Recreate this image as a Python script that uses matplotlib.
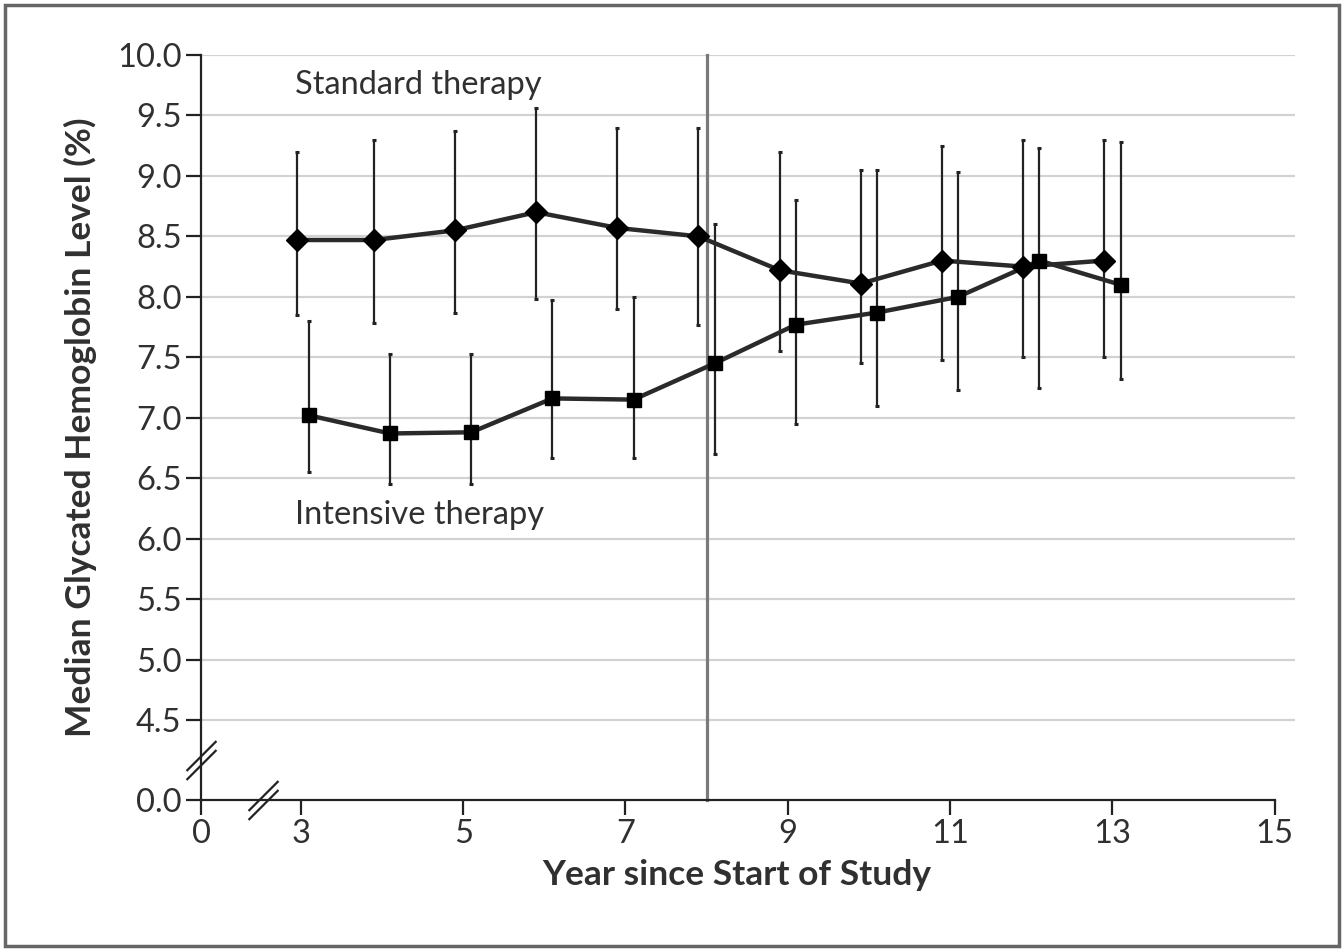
import numpy as np
import matplotlib
matplotlib.use("Agg")
import matplotlib.pyplot as plt
from matplotlib.path import Path
from matplotlib.patches import Rectangle

# ---- data ----
std_x = [2.9, 3.9, 4.9, 5.9, 6.9, 7.9, 8.9, 9.9, 10.9, 11.9, 12.9]
std_y = [8.47, 8.47, 8.55, 8.70, 8.57, 8.50, 8.22, 8.11, 8.30, 8.25, 8.30]
std_lo = [7.85, 7.78, 7.87, 7.98, 7.90, 7.77, 7.55, 7.45, 7.48, 7.50, 7.50]
std_hi = [9.20, 9.30, 9.37, 9.56, 9.40, 9.40, 9.20, 9.05, 9.25, 9.30, 9.30]

int_x = [3.1, 4.1, 5.1, 6.1, 7.1, 8.1, 9.1, 10.1, 11.1, 12.1, 13.1]
int_y = [7.02, 6.87, 6.88, 7.16, 7.15, 7.45, 7.77, 7.87, 8.00, 8.30, 8.10]
int_lo = [6.55, 6.45, 6.45, 6.67, 6.67, 6.70, 6.95, 7.10, 7.23, 7.25, 7.32]
int_hi = [7.80, 7.53, 7.53, 7.97, 8.00, 8.60, 8.80, 9.05, 9.03, 9.23, 9.28]

x_ticks = [0, 3, 5, 7, 9, 11, 13, 15]
y_ticks = [0.0, 4.5, 5.0, 5.5, 6.0, 6.5, 7.0, 7.5, 8.0, 8.5, 9.0, 9.5, 10.0]
grid_y = [4.5, 5.0, 5.5, 6.0, 6.5, 7.0, 7.5, 8.0, 8.5, 9.0, 9.5, 10.0]
divider_x = 8

# ---- broken-axis scales ----
XB, XZ = 3.0, 1.77
YB, YZ = 4.5, 3.839

def xf(x):
    x = np.asarray(x, dtype=float)
    return np.where(x >= XB, x, XZ + x * (XB - XZ) / XB)

def xi(u):
    u = np.asarray(u, dtype=float)
    return np.where(u >= XB, u, (u - XZ) * XB / (XB - XZ))

def yf(y):
    y = np.asarray(y, dtype=float)
    return np.where(y >= YB, y, YZ + y * (YB - YZ) / YB)

def yi(u):
    u = np.asarray(u, dtype=float)
    return np.where(u >= YB, u, (u - YZ) * YB / (YB - YZ))

FONT = "Lato"
plt.rcParams['font.family'] = [FONT, 'DejaVu Sans']

fig = plt.figure(figsize=(13.44, 9.51), dpi=100)
ax = fig.add_axes([201/1344, (951-800)/951, (1295-201)/1344, (800-55)/951])
ax.set_xscale('function', functions=(xf, xi))
ax.set_yscale('function', functions=(yf, yi))
ax.set_xlim(0, 15.25)
ax.set_ylim(0, 10.0)

dark = '#222222'
txt = '#303030'
for gy in grid_y:
    ax.axhline(gy, color='#d2d2d2', lw=1.6, zorder=0)

ax.plot([divider_x, divider_x], [0, 10.0], color='#7a7a7a', lw=2.3, zorder=1, clip_on=False)

def series(x, y, lo, hi, marker, ms):
    y = np.array(y); lo = np.array(lo); hi = np.array(hi)
    ax.errorbar(x, y, yerr=[y - lo, hi - y], fmt='none', ecolor=dark,
                elinewidth=1.6, capsize=1.6, capthick=2.2, zorder=2, clip_on=False)
    ax.plot(x, y, color='#2a2a2a', lw=3.2, zorder=3, solid_joinstyle='round')
    ax.plot(x, y, linestyle='none', marker=marker, ms=ms, color='black', zorder=4)

series(std_x, std_y, std_lo, std_hi, 'D', 11)
series(int_x, int_y, int_lo, int_hi, 's', 10)

ax.text(2.82, 9.75, 'Standard therapy', fontsize=23.5, color=txt, va='center', ha='left')
ax.text(2.82, 6.2, 'Intensive therapy', fontsize=23.5, color=txt, va='center', ha='left')

# spines / ticks
for s in ['top', 'right']:
    ax.spines[s].set_visible(False)
ax.spines['left'].set_bounds(0, 10.0)
ax.spines['bottom'].set_bounds(0, 15)
for s in ['left', 'bottom']:
    ax.spines[s].set_color(dark)
    ax.spines[s].set_linewidth(1.6)
ax.set_xticks(x_ticks)
ax.set_xticklabels([str(t) for t in x_ticks])
ax.set_yticks(y_ticks)
ax.set_yticklabels([f'{t:.1f}' for t in y_ticks])
ax.xaxis.set_minor_locator(matplotlib.ticker.NullLocator())
ax.yaxis.set_minor_locator(matplotlib.ticker.NullLocator())
ax.tick_params(axis='both', direction='out', length=11, width=1.6, color=dark,
               labelsize=23.5, labelcolor=txt, pad=3)

ax.set_xlabel('Year since Start of Study', fontsize=25.5, fontweight='bold', color=txt)
ax.xaxis.set_label_coords(0.49, -0.079)
ax.set_ylabel('Median Glycated Hemoglobin Level (%)', fontsize=25.5, fontweight='bold', color=txt, labelpad=14)

# break marks
brk = Path([(-0.5, -0.35), (0.5, 0.65), (-0.5, -0.65), (0.5, 0.35)],
           [Path.MOVETO, Path.LINETO, Path.MOVETO, Path.LINETO])
ax.plot([0], [2.25], marker=brk, ms=28, mew=1.6, mec=dark, mfc='none', clip_on=False, zorder=5)
ax.plot([1.86], [0], marker=brk, ms=28, mew=1.6, mec=dark, mfc='none', clip_on=False, zorder=5)

# outer frame
fig.patches.append(Rectangle((5/1344, 5/951), 1334/1344, 941/951, transform=fig.transFigure,
                             fill=False, edgecolor='#666666', lw=2.5))

fig.savefig('out.png', dpi=100)
